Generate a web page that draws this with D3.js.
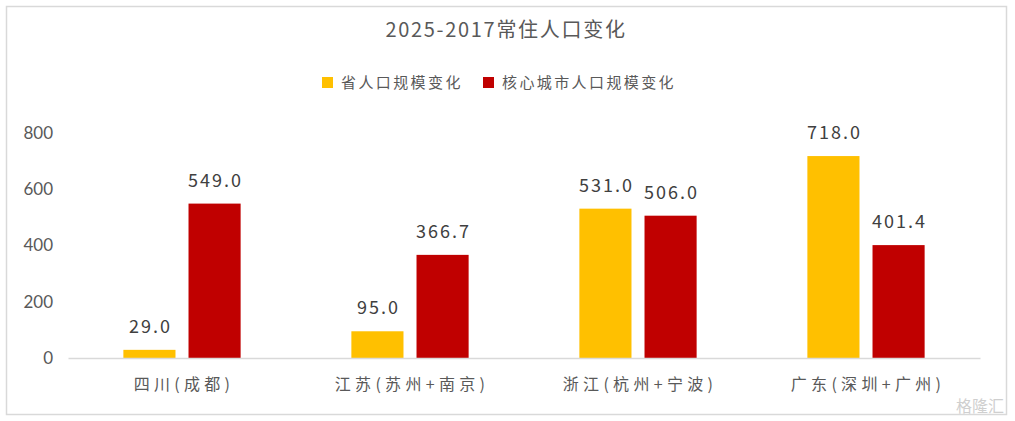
<!DOCTYPE html>
<html>
<head>
<meta charset="utf-8">
<script src="https://cdn.jsdelivr.net/npm/d3@7"></script>
<style>
  body { margin: 0; background: #fff; }
  svg { display: block; }
</style>
</head>
<body>
<svg id="chart" width="1015" height="421"></svg>
<script>
// chart data
const categories = ["四川(成都)", "江苏(苏州+南京)", "浙江(杭州+宁波)", "广东(深圳+广州)"];
const seriesNames = ["省人口规模变化", "核心城市人口规模变化"];
const provinceValues = [29.0, 95.0, 531.0, 718.0];
const cityValues = [549.0, 366.7, 506.0, 401.4];
const yTicks = [0, 200, 400, 600, 800];
const colors = ["#FFC000", "#C00000"];

const svg = d3.select("#chart");
const width = +svg.attr("width");
const cjk = "'Noto Sans CJK SC', sans-serif";

// outer frame
svg.append("rect")
  .attr("x", 6.5).attr("y", 6.5)
  .attr("width", 1000).attr("height", 408)
  .attr("fill", "#fff")
  .attr("stroke", "#d9d9d9").attr("stroke-width", 1.5);

// title
svg.append("text")
  .attr("x", 505).attr("y", 37)
  .attr("dx", 1)
  .attr("text-anchor", "middle")
  .attr("font-family", cjk)
  .attr("font-size", 20)
  .attr("letter-spacing", 1.7)
  .attr("fill", "#595959")
  .text("2025-2017常住人口变化");

// legend
const legendX = [322, 483];
seriesNames.forEach((name, i) => {
  const g = svg.append("g").attr("transform", `translate(${legendX[i]},77)`);
  g.append("rect").attr("width", 11).attr("height", 11).attr("fill", colors[i]);
  g.append("text")
    .attr("x", 19).attr("y", 10.5)
    .attr("font-family", cjk)
    .attr("font-size", 15)
    .attr("letter-spacing", 2.4)
    .attr("fill", "#595959")
    .text(name);
});

const margin = {left: 68, right: 35, top: 133, bottom: 63};
const plotW = width - margin.left - margin.right;

const x0 = d3.scaleBand()
  .domain(categories)
  .range([margin.left, margin.left + plotW])
  .paddingInner(0).paddingOuter(0);

const x1 = d3.scaleBand()
  .domain([0, 1])
  .range([0, x0.bandwidth()])
  .paddingInner(0.2)
  .paddingOuter(0.85);

const y = d3.scaleLinear()
  .domain([0, 800])
  .range([358, 133]);

// y axis labels
const yAxis = svg.append("g")
  .attr("transform", `translate(${margin.left},0)`)
  .call(d3.axisLeft(y).tickValues(yTicks).tickSize(0).tickPadding(15));
yAxis.select(".domain").remove();
yAxis.selectAll("text")
  .attr("font-family", "Lato, 'Liberation Sans', sans-serif")
  .attr("font-size", 17)
  .attr("fill", "#595959");

// bars
const series = [provinceValues, cityValues];
const groups = svg.append("g").selectAll("g")
  .data(categories)
  .join("g")
  .attr("transform", d => `translate(${x0(d)},0)`);

groups.selectAll("rect")
  .data((d, i) => series.map((s, k) => ({k, v: s[i]})))
  .join("rect")
  .attr("x", d => x1(d.k))
  .attr("y", d => y(d.v))
  .attr("width", x1.bandwidth())
  .attr("height", d => y(0) - y(d.v))
  .attr("fill", d => colors[d.k]);

groups.selectAll("text.val")
  .data((d, i) => series.map((s, k) => ({k, v: s[i]})))
  .join("text")
  .attr("class", "val")
  .attr("x", d => x1(d.k) + x1.bandwidth() / 2 + 1)
  .attr("y", d => y(d.v) - 17)
  .attr("text-anchor", "middle")
  .attr("font-family", cjk)
  .attr("font-size", 18)
  .attr("letter-spacing", 2)
  .attr("fill", "#404040")
  .text(d => d.v.toFixed(1));

// x axis
const xAxis = svg.append("g")
  .attr("transform", `translate(0,${y(0)})`)
  .call(d3.axisBottom(x0).tickSize(0).tickPadding(21));
xAxis.select(".domain").attr("stroke", "#d9d9d9").attr("stroke-width", 1.5);
xAxis.selectAll("text")
  .attr("font-family", cjk)
  .attr("font-size", 16)
  .attr("letter-spacing", 4.3)
  .attr("dx", 2)
  .attr("fill", "#595959");

// watermark
svg.append("text")
  .attr("x", 1004).attr("y", 412)
  .attr("text-anchor", "end")
  .attr("font-family", cjk)
  .attr("font-size", 16)
  .attr("fill", "#cfcfcf")
  .text("格隆汇");
</script>
</body>
</html>
